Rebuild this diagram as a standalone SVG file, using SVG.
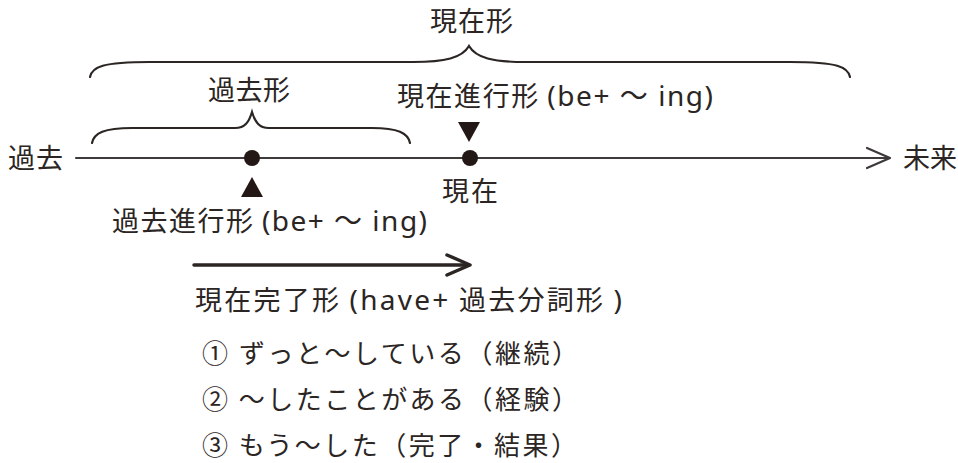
<svg xmlns="http://www.w3.org/2000/svg" width="958" height="463" viewBox="0 0 958 463">
<style>
text{font-family:"Noto Sans CJK JP","Noto Sans",sans-serif;font-size:27px;fill:#2b2523;}
.lat{font-family:"Noto Sans","Noto Sans CJK JP",sans-serif;font-size:28px;}
.li{font-size:26px;}
.ln{fill:none;stroke:#3e3a39;stroke-width:2.2;stroke-linecap:round;stroke-linejoin:round;}
.ar{fill:none;stroke:#2b2523;stroke-width:3.5;stroke-linecap:round;stroke-linejoin:round;}
.br{fill:none;stroke:#2b2523;stroke-width:2.2;stroke-linecap:round;}
.mk{fill:#231815;}
</style>
<rect width="958" height="463" fill="#ffffff"/>
<g id="connectors">
<line class="ln" x1="76" y1="158" x2="889" y2="158"/>
<polyline class="ln" points="867,148 890,158 867,168"/>
<line class="ar" x1="194" y1="265" x2="468" y2="265"/>
<polyline class="ar" points="447,255 470,265 447,275"/>
</g>
<g id="brace-present">
<path class="br" d="M90,77 C92,67 102,62 150,62 L413,62 C445,62 462,58 469,46 C476,58 493,62 525,62 L790,62 C838,62 848,67 850,77"/>
<text x="430" y="31" textLength="83" lengthAdjust="spacing">現在形</text>
</g>
<g id="brace-past">
<path class="br" d="M92,143 C94,133 104,128 132,128 L235,128 C245,128 249,122 252,112 C255,122 259,128 269,128 L372,128 C398,128 408,133 410,143"/>
<text x="208" y="100" textLength="82" lengthAdjust="spacing">過去形</text>
</g>
<g id="label-past">
<text x="8" y="168" textLength="55" lengthAdjust="spacing">過去</text>
</g>
<g id="label-future">
<text x="903" y="168" textLength="54" lengthAdjust="spacing">未来</text>
</g>
<g id="past-progressive">
<circle class="mk" cx="252" cy="158" r="8"/>
<polygon class="mk" points="241,197 263,197 252,177"/>
<text x="112" y="231" textLength="315" lengthAdjust="spacing">過去進行形 <tspan class="lat">(be+ ～ ing)</tspan></text>
</g>
<g id="present-progressive">
<circle class="mk" cx="470" cy="158" r="8"/>
<polygon class="mk" points="458,122 480,122 469,142"/>
<text x="397" y="106" textLength="316" lengthAdjust="spacing">現在進行形 <tspan class="lat">(be+ ～ ing)</tspan></text>
<text x="442" y="201" textLength="56" lengthAdjust="spacing">現在</text>
</g>
<g id="present-perfect">
<text x="195" y="310" textLength="427" lengthAdjust="spacing">現在完了形 <tspan class="lat">(have+</tspan> 過去分詞形 <tspan class="lat">)</tspan></text>
<text class="li" x="202" y="363" textLength="376" lengthAdjust="spacing">① ずっと～している（継続）</text>
<text class="li" x="202" y="409" textLength="376" lengthAdjust="spacing">② ～したことがある（経験）</text>
<text class="li" x="202" y="455" textLength="375" lengthAdjust="spacing">③ もう～した（完了・結果）</text>
</g>
</svg>
